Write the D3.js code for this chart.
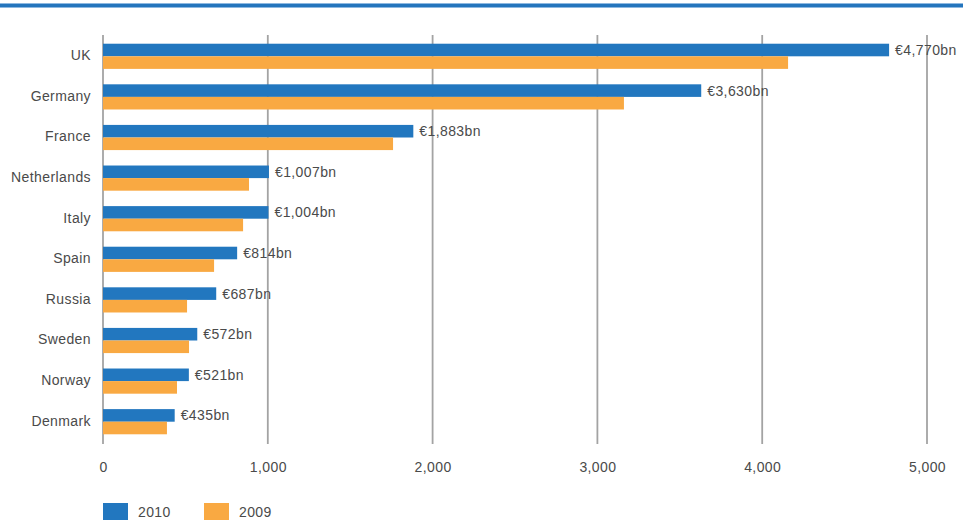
<!DOCTYPE html>
<html>
<head>
<meta charset="utf-8">
<script src="https://cdn.jsdelivr.net/npm/d3@7"></script>
<style>
  body { margin: 0; background: #fff; }
  text { font-family: "Liberation Sans", Arial, sans-serif; }
</style>
</head>
<body>
<div id="chart"></div>
<script>
// Data
var countries = ["UK", "Germany", "France", "Netherlands", "Italy", "Spain", "Russia", "Sweden", "Norway", "Denmark"];
var values2010 = [4770, 3630, 1883, 1007, 1004, 814, 687, 572, 521, 435];
var values2009 = [4157, 3161, 1760, 886, 850, 674, 510, 522, 449, 388];
var seriesNames = ["2010", "2009"];
var tickValues = [0, 1000, 2000, 3000, 4000, 5000];

var w = 963;
var h = 520;
var blue = "#2277bf";
var orange = "#f9a942";
var textColor = "#4a4a4a";

var svg = d3.select("#chart")
    .append("svg")
    .attr("width", w)
    .attr("height", h);

// Blue rule at the top
svg.append("rect")
    .attr("x", 0)
    .attr("y", 3)
    .attr("width", w)
    .attr("height", 5)
    .attr("fill", "#8db8e0");
svg.append("rect")
    .attr("x", 0)
    .attr("y", 4)
    .attr("width", w)
    .attr("height", 3)
    .attr("fill", "#2475bd");

// Scales
var xScale = d3.scaleLinear()
    .domain([0, 5000])
    .range([103, 927]);

var yScale = d3.scaleBand()
    .domain(countries)
    .range([36, 442])
    .paddingInner(0.38)
    .paddingOuter(0.19);

var subScale = d3.scaleBand()
    .domain(seriesNames)
    .range([0, yScale.bandwidth()]);

var colorScale = d3.scaleOrdinal()
    .domain(seriesNames)
    .range([blue, orange]);

// Gridlines behind bars
svg.append("g")
    .selectAll("line")
    .data(tickValues)
    .enter()
    .append("line")
    .attr("x1", function(d) { return xScale(d); })
    .attr("x2", function(d) { return xScale(d); })
    .attr("y1", 35)
    .attr("y2", 444)
    .attr("stroke", "#a3a3a3")
    .attr("stroke-width", 1.8);

// x axis labels
var xAxis = d3.axisBottom(xScale)
    .tickValues(tickValues)
    .tickSize(0)
    .tickPadding(0)
    .tickFormat(d3.format(","));

var axisG = svg.append("g")
    .attr("transform", "translate(0,462)")
    .call(xAxis);
axisG.select(".domain").remove();
axisG.selectAll("text")
    .attr("font-family", "'Liberation Sans', Arial, sans-serif")
    .attr("font-size", "14px")
    .attr("letter-spacing", "0.4px")
    .attr("fill", textColor);

// y axis labels (category names)
svg.append("g")
    .selectAll("text")
    .data(countries)
    .enter()
    .append("text")
    .attr("x", 91)
    .attr("y", function(d) { return yScale(d) + yScale.bandwidth() / 2 - 1; })
    .attr("dy", "0.35em")
    .attr("text-anchor", "end")
    .attr("font-size", "14px")
    .attr("letter-spacing", "0.4px")
    .attr("fill", textColor)
    .text(function(d) { return d; });

// Bars
var rows = countries.map(function(c, i) {
    return { country: c, values: [
        { key: "2010", value: values2010[i] },
        { key: "2009", value: values2009[i] }
    ] };
});

var groups = svg.append("g")
    .selectAll("g")
    .data(rows)
    .enter()
    .append("g")
    .attr("transform", function(d) { return "translate(0," + yScale(d.country) + ")"; });

groups.selectAll("rect")
    .data(function(d) { return d.values; })
    .enter()
    .append("rect")
    .attr("x", xScale(0))
    .attr("y", function(d) { return subScale(d.key); })
    .attr("width", function(d) { return xScale(d.value) - xScale(0); })
    .attr("height", subScale.bandwidth())
    .attr("fill", function(d) { return colorScale(d.key); });

// Value labels for 2010
var euro = d3.format(",");
groups.append("text")
    .attr("x", function(d) { return xScale(d.values[0].value) + 6; })
    .attr("y", subScale("2010") + subScale.bandwidth() / 2)
    .attr("dy", "0.35em")
    .attr("font-size", "14px")
    .attr("letter-spacing", "0.4px")
    .attr("fill", textColor)
    .text(function(d) { return "€" + euro(d.values[0].value) + "bn"; });

// Legend
var legend = svg.append("g")
    .selectAll("g")
    .data(seriesNames)
    .enter()
    .append("g")
    .attr("transform", function(d, i) { return "translate(" + (103 + i * 101) + ",503)"; });

legend.append("rect")
    .attr("width", 25)
    .attr("height", 17)
    .attr("fill", function(d) { return colorScale(d); });

legend.append("text")
    .attr("x", 35)
    .attr("y", 14)
    .attr("font-size", "14px")
    .attr("letter-spacing", "0.4px")
    .attr("fill", textColor)
    .text(function(d) { return d; });
</script>
</body>
</html>
